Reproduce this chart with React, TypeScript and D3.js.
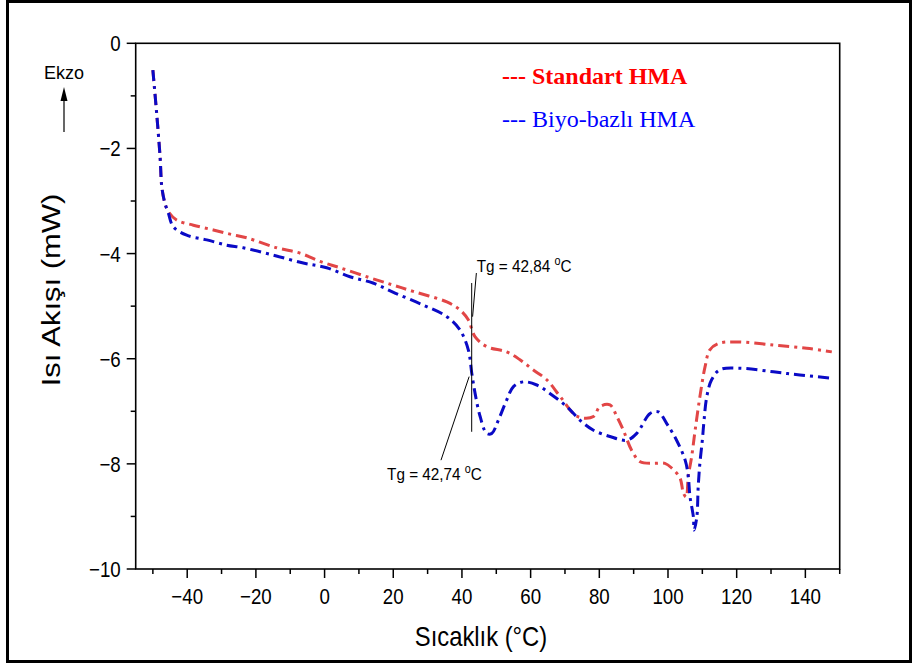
import React from "react";
import * as d3 from "d3";

// Temperature (°C) and heat flow (mW) readings for each binder
const standartTemp = [-50, -48.9, -47.9, -47.4, -46.5, -45.5, -43.1, -38.2, -32.4, -27.5, -22.7, -13.9, -7.2, -1.3, 4.5, 13.2, 20.0, 25.8, 35.6, 39.4, 41.85, 43.8, 47.2, 53.0, 56.9, 60.7, 64.7, 68.6, 72.9, 75.3, 78.3, 80.2, 83.1, 85.1, 87.0, 89.4, 91.9, 95.7, 99.1, 101.1, 103.5, 104.5, 105.3, 105.9, 106.9, 107.9, 109.3, 110.8, 112.2, 114.7, 120.0, 130.7, 140.4, 147.7];
const standartFlow = [-0.51, -1.33, -2.16, -2.73, -3.04, -3.2, -3.36, -3.46, -3.55, -3.63, -3.7, -3.89, -3.99, -4.15, -4.27, -4.46, -4.6, -4.72, -4.92, -5.07, -5.26, -5.58, -5.77, -5.87, -6.02, -6.21, -6.4, -6.72, -7.07, -7.13, -7.1, -6.91, -6.88, -7.1, -7.36, -7.74, -7.96, -7.99, -7.99, -8.08, -8.27, -8.56, -8.63, -8.24, -7.86, -7.36, -6.72, -6.15, -5.83, -5.71, -5.68, -5.74, -5.8, -5.87];

const biyoTemp = [-50, -48.9, -47.9, -47.4, -46.5, -45.5, -44.05, -40.15, -34.3, -28.5, -23.7, -14.9, -6.2, 0.6, 7.4, 14.1, 20.5, 28.75, 35.6, 39.4, 41.85, 42.85, 43.8, 45.3, 47.2, 48.7, 50.6, 53.0, 55.0, 57.9, 61.8, 65.6, 70.5, 74.9, 78.3, 83.1, 88.0, 90.9, 94.8, 97.2, 99.6, 102.5, 105.0, 105.9, 106.4, 107.4, 107.6, 108.4, 108.8, 109.3, 110.0, 110.5, 111.3, 112.7, 115.1, 120.9, 130.7, 138.4, 147.7];
const biyoFlow = [-0.51, -1.33, -2.16, -2.73, -3.04, -3.23, -3.49, -3.65, -3.74, -3.84, -3.89, -4.03, -4.18, -4.27, -4.44, -4.56, -4.75, -4.98, -5.2, -5.45, -5.83, -6.27, -6.65, -7.1, -7.42, -7.42, -7.17, -6.79, -6.53, -6.44, -6.5, -6.66, -6.91, -7.2, -7.36, -7.48, -7.55, -7.42, -7.04, -7.01, -7.23, -7.55, -7.93, -8.24, -8.62, -9.01, -9.26, -9.01, -8.43, -7.98, -7.55, -7.17, -6.72, -6.4, -6.21, -6.18, -6.25, -6.31, -6.37];

const xMajorTicks = [-40, -20, 0, 20, 40, 60, 80, 100, 120, 140];
const xMinorTicks = [-50, -30, -10, 10, 30, 50, 70, 90, 110, 130, 150];
const yMajorTicks = [0, -2, -4, -6, -8, -10];
const yMinorTicks = [-1, -3, -5, -7, -9];

const legendLabels = ["--- Standart HMA", "--- Biyo-bazlı HMA"];
const tgStandart = "Tg = 42,84 ";
const tgBiyo = "Tg = 42,74 ";

const W = 915;
const H = 668;
const plot = { left: 135.7, right: 839.7, top: 43.3, bottom: 569 };

const RED = "#e24646";
const BLUE = "#0a0ac6";
const SANS = "Arial, 'Liberation Sans', sans-serif";
const SERIF = "'Times New Roman', 'Liberation Serif', serif";
// condensed sans lettering used for axis and annotation text
const NARROW = 0.85;

const fmt = (v: number) => (v < 0 ? "\u2212" + Math.abs(v) : String(v));

export default function App() {
  const x = d3.scaleLinear().domain([-55, 150]).range([plot.left, plot.right]);
  const y = d3.scaleLinear().domain([-10, 0]).range([plot.bottom, plot.top]);

  const line = d3
    .line<[number, number]>()
    .x((d) => x(d[0]))
    .y((d) => y(d[1]))
    .curve(d3.curveCatmullRom.alpha(0.5));

  const standart = standartTemp.map((t, i) => [t, standartFlow[i]] as [number, number]);
  const biyo = biyoTemp.map((t, i) => [t, biyoFlow[i]] as [number, number]);

  const dash = "11 5 3 5";

  return (
    <div style={{ position: "absolute", left: 0, top: 0 }}>
      <svg width={W} height={H} style={{ display: "block", background: "#fff" }}>
        <rect x={7.5} y={1.5} width={903} height={660} fill="#fff" stroke="#000" strokeWidth={3} />

        {/* plot frame */}
        <rect
          x={plot.left}
          y={plot.top}
          width={plot.right - plot.left}
          height={plot.bottom - plot.top}
          fill="none"
          stroke="#000"
          strokeWidth={1.6}
        />

        {/* x axis ticks */}
        {xMajorTicks.map((t) => (
          <g key={"xM" + t}>
            <line x1={x(t)} x2={x(t)} y1={plot.bottom} y2={plot.bottom + 9} stroke="#000" strokeWidth={1.5} />
            <text
              transform={`translate(${x(t)}, ${plot.bottom + 35}) scale(${NARROW}, 1)`}
              textAnchor="middle"
              fontFamily={SANS}
              fontSize={22}
              fill="#000"
            >
              {fmt(t)}
            </text>
          </g>
        ))}
        {xMinorTicks.map((t) => (
          <line key={"xm" + t} x1={x(t)} x2={x(t)} y1={plot.bottom} y2={plot.bottom + 5} stroke="#000" strokeWidth={1.5} />
        ))}

        {/* y axis ticks */}
        {yMajorTicks.map((v) => (
          <g key={"yM" + v}>
            <line x1={plot.left - 9} x2={plot.left} y1={y(v)} y2={y(v)} stroke="#000" strokeWidth={1.5} />
            <text
              transform={`translate(${plot.left - 15}, ${y(v) + 8}) scale(${NARROW}, 1)`}
              textAnchor="end"
              fontFamily={SANS}
              fontSize={22}
              fill="#000"
            >
              {fmt(v)}
            </text>
          </g>
        ))}
        {yMinorTicks.map((v) => (
          <line key={"ym" + v} x1={plot.left - 5} x2={plot.left} y1={y(v)} y2={y(v)} stroke="#000" strokeWidth={1.5} />
        ))}

        {/* axis titles */}
        <text
          transform={`translate(481, 646) scale(${NARROW}, 1)`}
          textAnchor="middle"
          fontFamily={SANS}
          fontSize={28}
          fill="#000"
        >
          Sıcaklık (°C)
        </text>
        <text
          transform={`translate(60, 290) rotate(-90) scale(1, ${NARROW})`}
          textAnchor="middle"
          fontFamily={SANS}
          fontSize={31}
          fill="#000"
        >
          Isı Akışı (mW)
        </text>

        {/* exotherm direction marker */}
        <text x={64} y={79} textAnchor="middle" fontFamily={SANS} fontSize={18} fill="#000">
          Ekzo
        </text>
        <line x1={64} x2={64} y1={132} y2={98} stroke="#000" strokeWidth={1.2} />
        <path d="M64,87 L60.5,101 L67.5,101 Z" fill="#000" />

        {/* curves */}
        <path d={line(standart) ?? ""} fill="none" stroke={RED} strokeWidth={3} strokeDasharray={dash} />
        <path d={line(biyo) ?? ""} fill="none" stroke={BLUE} strokeWidth={3} strokeDasharray={dash} />

        {/* glass transition markers */}
        <line x1={x(42.84)} x2={x(42.84)} y1={y(-4.56)} y2={y(-7.39)} stroke="#000" strokeWidth={1} />
        <line x1={x(44.2)} y1={y(-4.37)} x2={x(43.1)} y2={y(-5.2)} stroke="#000" strokeWidth={1} />
        <line x1={x(33.9)} y1={y(-7.93)} x2={x(42.1)} y2={y(-6.34)} stroke="#000" strokeWidth={1} />

        <text
          transform={`translate(${x(44.3)}, ${y(-4.38) - 2}) scale(0.9, 1)`}
          fontFamily={SANS}
          fontSize={17}
          fill="#000"
        >
          {tgStandart}
          <tspan dy={-7} fontSize={12}>o</tspan>
          <tspan dy={7}>C</tspan>
        </text>
        <text
          transform={`translate(${x(18.2)}, ${y(-8.3)}) scale(0.9, 1)`}
          fontFamily={SANS}
          fontSize={17}
          fill="#000"
        >
          {tgBiyo}
          <tspan dy={-7} fontSize={12}>o</tspan>
          <tspan dy={7}>C</tspan>
        </text>

        {/* legend */}
        <text x={502} y={84} fontFamily={SERIF} fontSize={24} fontWeight="bold" fill="#ff0000">
          {legendLabels[0]}
        </text>
        <text x={502} y={127} fontFamily={SERIF} fontSize={24} fill="#0000ff">
          {legendLabels[1]}
        </text>
      </svg>
    </div>
  );
}
